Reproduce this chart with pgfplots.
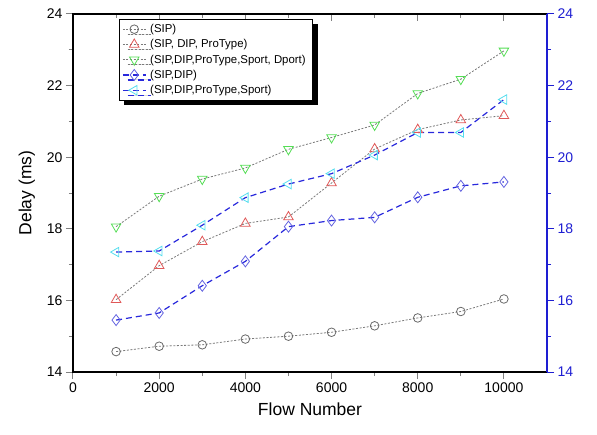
\documentclass[border=0pt]{standalone}
\usepackage{fontspec}
\setmainfont{Liberation Sans}
\usepackage{pgfplots}
\pgfplotsset{compat=1.18}
\usetikzlibrary{shadows}

\definecolor{sipgray}{HTML}{6A6A6A}
\definecolor{linegray}{HTML}{7A7A7A}
\definecolor{trired}{HTML}{E05858}
\definecolor{trigreen}{HTML}{55DD55}
\definecolor{diablue}{HTML}{6464E0}
\definecolor{tricyan}{HTML}{55DDEE}
\definecolor{dashblue}{HTML}{2828DC}
\definecolor{axblue}{HTML}{1E1ED2}

\begin{document}
\begin{tikzpicture}
\pgfplotsset{
  common/.style={
    width=474pt, height=358pt, scale only axis,
    xmin=0, xmax=11000, ymin=14, ymax=24,
    xtick={0,2000,...,10000}, ytick={14,16,...,24},
    minor x tick num=1, minor y tick num=1,
    major tick length=7pt, minor tick length=4pt,
    tick style={line width=1pt},
    axis line style={line width=1.3pt},
    tick label style={font=\fontsize{14}{16}\selectfont},
    /pgf/number format/assume math mode=true,
    scaled x ticks=false,
    xticklabel style={/pgf/number format/1000 sep={}},
  },
  dotline/.style={color=linegray, line width=0.8pt, dash pattern=on 2pt off 1.6pt},
  dashline/.style={color=dashblue, line width=1.2pt, dash pattern=on 6pt off 4pt},
}
% top ticks point inwards
\begin{axis}[common, xtick pos=top, tick align=inside, xticklabels={}, ytick=\empty]
\end{axis}

\begin{axis}[common, xtick pos=bottom, ytick pos=left, tick align=outside,
  xlabel={Flow Number}, ylabel={Delay (ms)},
  label style={font=\fontsize{17.5}{20}\selectfont},
  xlabel style={yshift=-4pt},
  ylabel style={yshift=5pt},
  legend cell align=left,
  legend image code/.code={\draw[mark repeat=2,mark phase=2] plot coordinates {(0cm,0cm) (0.4cm,0cm) (0.8cm,0cm)};},
  legend style={at={(rel axis cs:0.097,0.986)}, anchor=north west,
    font=\fontsize{11.4}{13}\selectfont, draw=black, line width=0.6pt, fill=white,
    drop shadow={shadow xshift=5pt, shadow yshift=-5pt, fill=black, opacity=1},
    row sep=1.5pt, inner xsep=3pt, inner ysep=3pt,
    nodes={inner xsep=4pt}},
]
\addplot[dotline, mark=o, mark size=4.3pt, mark options={solid, draw=sipgray, line width=0.8pt}] coordinates {
  (1000,14.57)(2000,14.72)(3000,14.76)(4000,14.92)(5000,15.00)
  (6000,15.11)(7000,15.29)(8000,15.51)(9000,15.69)(10000,16.04)};
\addlegendentry{(SIP)}
\addplot[dotline, mark=triangle, mark size=5.5pt, mark options={solid, draw=trired, line width=0.8pt}] coordinates {
  (1000,16.02)(2000,16.97)(3000,17.64)(4000,18.15)(5000,18.33)
  (6000,19.28)(7000,20.23)(8000,20.77)(9000,21.04)(10000,21.16)};
\addlegendentry{(SIP, DIP, ProType)}
\addplot[dotline, mark=triangle, mark size=5.5pt, mark options={solid, rotate=180, draw=trigreen, line width=0.8pt}] coordinates {
  (1000,18.06)(2000,18.91)(3000,19.39)(4000,19.70)(5000,20.22)
  (6000,20.55)(7000,20.90)(8000,21.78)(9000,22.18)(10000,22.97)};
\addlegendentry{(SIP,DIP,ProType,Sport, Dport)}
\addplot[dashline, mark=diamond, mark size=5.5pt, mark options={solid, draw=diablue, line width=0.8pt}] coordinates {
  (1000,15.45)(2000,15.65)(3000,16.41)(4000,17.09)(5000,18.06)
  (6000,18.23)(7000,18.32)(8000,18.88)(9000,19.20)(10000,19.31)};
\addlegendentry{(SIP,DIP)}
\addplot[dashline, mark=triangle, mark size=5.5pt, mark options={solid, rotate=90, draw=tricyan, line width=0.8pt}] coordinates {
  (1000,17.35)(2000,17.38)(3000,18.10)(4000,18.87)(5000,19.25)
  (6000,19.54)(7000,20.06)(8000,20.69)(9000,20.69)(10000,21.61)};
\addlegendentry{(SIP,DIP,ProType,Sport)}
\end{axis}

% right axis in blue
\begin{axis}[common, axis x line=none, axis y line*=right, tick align=outside,
  xtick=\empty, ytick pos=right,
  axis line style={-, draw=axblue},
  tick style={draw=axblue},
  yticklabel style={text=axblue}]
\end{axis}

\pgfresetboundingbox
\path (-73pt,-62pt) rectangle (524pt,372pt);
\end{tikzpicture}
\end{document}
